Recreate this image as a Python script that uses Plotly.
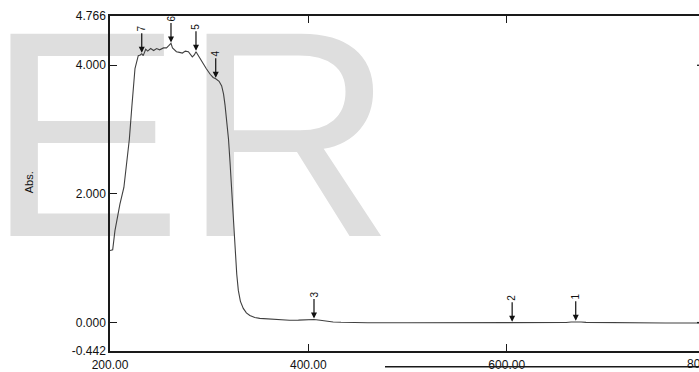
import plotly.graph_objects as go

# ---- data ----
wavelength = [200, 202.7, 205, 210, 214, 216.8, 219.5, 222, 223.8, 225.2, 228.5, 230.5,
              232.0, 233.5, 236, 238, 241, 244, 247, 250, 254, 257, 259, 261.5, 263,
              267, 270, 273, 276, 279, 283, 285, 286.7, 290, 294, 297, 301, 304, 306.6,
              310, 312.6, 314.5, 316, 318, 319.5, 321, 322.7, 324.5, 326, 327.8, 329.4,
              331.5, 334.4, 337.5, 341, 346, 351, 360, 370, 381, 390, 398, 405.7, 412,
              418, 425, 433, 442, 460, 500, 550, 600, 640, 660, 665, 669.6, 675, 680,
              700, 705, 720, 760, 794]
absorbance = [1.12, 1.13, 1.43, 1.84, 2.10, 2.46, 2.85, 3.35, 3.69, 3.95, 4.15, 4.16,
              4.18, 4.15, 4.25, 4.22, 4.26, 4.23, 4.26, 4.24, 4.27, 4.27, 4.30, 4.34, 4.27,
              4.21, 4.20, 4.19, 4.22, 4.21, 4.13, 4.16, 4.21, 4.12, 4.03, 3.95, 3.86, 3.81,
              3.79, 3.75, 3.68, 3.55, 3.38, 3.10, 2.85, 2.50, 2.05, 1.55, 1.12, 0.75, 0.50,
              0.33, 0.22, 0.15, 0.11, 0.08, 0.065, 0.055, 0.045, 0.037, 0.038, 0.042, 0.048,
              0.035, 0.022, 0.010, 0.004, 0.0, -0.002, -0.003, -0.003, -0.002, -0.001, 0.0,
              0.010, 0.012, 0.010, 0.003, 0.0, -0.006, -0.007, -0.007, -0.007]

peak_labels = ["1", "2", "3", "4", "5", "6", "7"]
peak_wl = [669.6, 605.5, 405.7, 306.6, 286.7, 261.5, 232.0]
peak_abs = [0.012, -0.002, 0.048, 3.79, 4.21, 4.34, 4.18]

x_tickvals = [200, 400, 600]
x_ticktext = ["200.00", "400.00", "600.00"]
x_extra_label = "800.00"
y_tickvals = [-0.442, 0.0, 2.0, 4.0, 4.766]
y_ticktext = ["-0.442", "0.000", "2.000", "4.000", "4.766"]
y_title = "Abs."
watermark = "ER"

X_RANGE = [200, 793.9]
Y_RANGE = [-0.442, 4.766]

FONT = "Liberation Sans, Arial, sans-serif"
AX = "#1a1a1a"

fig = go.Figure()

# watermark, behind the curve and axes
fig.add_trace(go.Scatter(
    x=[281.2], y=[2.49], mode="text", text=[watermark],
    textposition="middle center", cliponaxis=False, hoverinfo="skip",
    textfont=dict(family=FONT, size=294, color="#dedede"), showlegend=False))

fig.add_trace(go.Scatter(
    x=wavelength, y=absorbance, mode="lines",
    line=dict(color="#404040", width=1.1), showlegend=False))

annotations = []
for lab, xw, yv in zip(peak_labels, peak_wl, peak_abs):
    annotations.append(dict(
        x=xw, y=yv, xref="x", yref="y", text=lab, textangle=-90,
        showarrow=True, arrowhead=2, arrowsize=1, arrowwidth=1.2, arrowcolor="#111",
        ax=0, ay=-25, standoff=1, font=dict(family=FONT, size=10, color="#111")))

annotations.append(dict(
    x=-0.151, y=0.504, xref="paper", yref="paper", text=y_title, textangle=-90,
    showarrow=False, font=dict(family=FONT, size=11, color="#111")))

annotations.append(dict(
    x=0.976, y=0, xref="paper", yref="paper", text=x_extra_label, showarrow=False,
    xanchor="left", yanchor="top", yshift=-4,
    font=dict(family=FONT, size=12, color="#111")))

shapes = [
    # right-axis tick stubs just visible at the cropped edge
    dict(type="line", xref="paper", yref="y", x0=0.9966, x1=1.0, y0=4.0, y1=4.0,
         line=dict(color=AX, width=1.3)),
    dict(type="line", xref="paper", yref="y", x0=0.9966, x1=1.0, y0=0.0, y1=0.0,
         line=dict(color=AX, width=1.3)),
    # black rule along the bottom edge
    dict(type="line", xref="paper", yref="paper", x0=0.4669, x1=1.0, y0=-0.0472, y1=-0.0472,
         line=dict(color=AX, width=1.5)),
]

fig.update_layout(
    width=699, height=372,
    margin=dict(l=110, r=0, t=16, b=17),
    paper_bgcolor="white", plot_bgcolor="rgba(0,0,0,0)",
    font=dict(family=FONT, size=12, color="#111"),
    annotations=annotations, shapes=shapes, showlegend=False,
)
fig.update_xaxes(
    range=X_RANGE, tickvals=x_tickvals, ticktext=x_ticktext,
    showline=True, linecolor=AX, linewidth=1.5, mirror="ticks",
    ticks="inside", ticklen=7, tickwidth=1.3, tickcolor=AX, ticklabelstandoff=2,
    showgrid=False, zeroline=False, tickfont=dict(family=FONT, size=12, color="#111"))
fig.update_yaxes(
    range=Y_RANGE, tickvals=y_tickvals, ticktext=y_ticktext,
    showline=True, linecolor=AX, linewidth=1.5,
    ticks="inside", ticklen=7, tickwidth=1.3, tickcolor=AX,
    showgrid=False, zeroline=False, tickfont=dict(family=FONT, size=12, color="#111"))

fig.write_html("out.html")
